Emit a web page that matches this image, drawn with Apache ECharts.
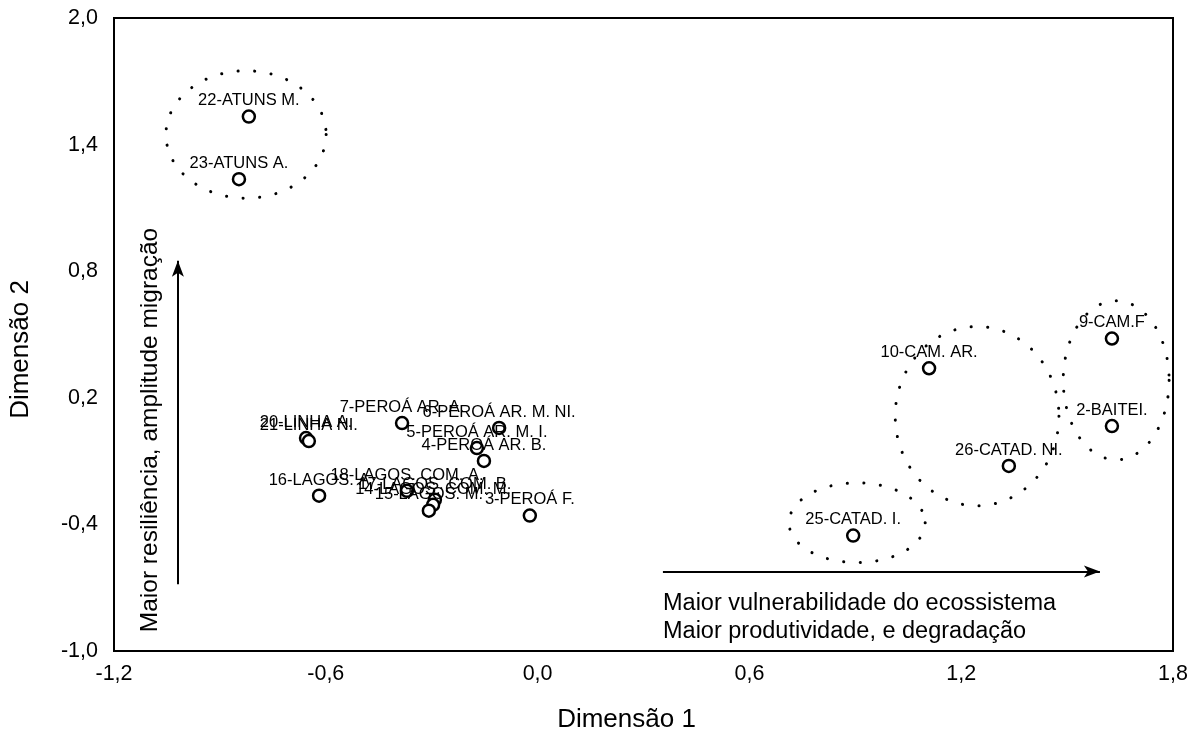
<!DOCTYPE html>
<html>
<head>
<meta charset="utf-8">
<script src="https://cdn.jsdelivr.net/npm/echarts@6/dist/echarts.min.js"></script>
<style>html,body{margin:0;padding:0;background:#fff}#c{width:1197px;height:738px}</style>
</head>
<body>
<div id="c"></div>
<script>
const labels = ['22-ATUNS M.','23-ATUNS A.','20-LINHA A.','21-LINHA NI.','7-PEROÁ AR. A.','6-PEROÁ AR. M. NI.','5-PEROÁ AR. M. I.','4-PEROÁ AR. B.','16-LAGOS. A','18-LAGOS. COM. A.','17-LAGOS. COM. B.','14-LAGOS. COM. M.','15-LAGOS. M.','3-PEROÁ F.','10-CAM. AR.','9-CAM.F','2-BAITEI.','26-CATAD. NI.','25-CATAD. I.'];
const dim1 = [-0.818,-0.846,-0.656,-0.648,-0.384,-0.109,-0.172,-0.152,-0.619,-0.370,-0.291,-0.296,-0.308,-0.022,1.109,1.627,1.627,1.335,0.894];
const dim2 = [1.533,1.236,0.009,-0.005,0.080,0.057,-0.038,-0.099,-0.264,-0.241,-0.283,-0.307,-0.335,-0.358,0.340,0.481,0.066,-0.123,-0.453];

// group ellipses: centre x, centre y, radius x, radius y (data units)
const ellCx = [-0.826, 0.905, 1.245, 1.639];
const ellCy = [1.448, -0.392, 0.113, 0.283];
const ellRx = [0.227, 0.193, 0.232, 0.150];
const ellRy = [0.302, 0.189, 0.425, 0.377];

const xTicks = [-1.2,-0.6,0.0,0.6,1.2,1.8];
const yTicks = [-1.0,-0.4,0.2,0.8,1.4,2.0];

const arrowV = [[-1.019,-0.684],[-1.019,0.849]];
const arrowH = [[0.355,-0.623],[1.593,-0.623]];
const textV = 'Maior resiliência, amplitude migração';
const textH1 = 'Maior vulnerabilidade do ecossistema';
const textH2 = 'Maior produtividade, e degradação';

const FONT = 'Liberation Sans, Arial, sans-serif';
const fmt = v => v.toFixed(1).replace('.', ',');

const chart = echarts.init(document.getElementById('c'));
const pts = dim1.map((x,i)=>({value:[x,dim2[i]], name:labels[i]}));
const ells = ellCx.map((x,i)=>[x,ellCy[i],ellRx[i],ellRy[i]]);

chart.setOption({
  animation:false,
  backgroundColor:'#fff',
  grid:{left:114,right:24,top:18,bottom:84,show:true,borderColor:'#000',borderWidth:2},
  xAxis:{type:'value',min:-1.2,max:1.8,interval:0.6,
    name:'Dimensão 1',nameLocation:'middle',nameGap:56,
    nameTextStyle:{fontFamily:FONT,fontSize:26,color:'#000',padding:[0,34,0,0]},
    axisLine:{show:true,onZero:false,lineStyle:{color:'#000',width:2}},
    axisTick:{show:false},splitLine:{show:false},
    axisLabel:{fontFamily:FONT,fontSize:21.5,color:'#000',margin:12,formatter:fmt}},
  yAxis:{type:'value',min:-1.0,max:2.0,interval:0.6,
    name:'Dimensão 2',nameLocation:'middle',nameGap:80,
    nameTextStyle:{fontFamily:FONT,fontSize:26,color:'#000',padding:[0,30,0,0]},
    axisLine:{show:true,onZero:false,lineStyle:{color:'#000',width:2}},
    axisTick:{show:false},splitLine:{show:false},
    axisLabel:{fontFamily:FONT,fontSize:21.5,color:'#000',margin:16,formatter:fmt}},
  series:[
    {type:'custom',data:ells,silent:true,z:1,
      renderItem:function(params,api){
        const c = api.coord([api.value(0),api.value(1)]);
        const s = api.size([api.value(2),api.value(3)]);
        const p = [];
        for(let k=0;k<=90;k++){const a=k/90*Math.PI*2;p.push([c[0]+s[0]*Math.cos(a),c[1]+s[1]*Math.sin(a)]);}
        return {type:'polyline',shape:{points:p},
          style:{stroke:'#000',fill:null,lineWidth:3,lineDash:[0.1,16.5],lineCap:'round'}};
      }},
    {type:'scatter',data:pts,symbol:'circle',symbolSize:12,z:3,
      itemStyle:{color:'#fff',borderColor:'#000',borderWidth:2.5,opacity:1},
      label:{show:true,position:'top',distance:0,formatter:p=>p.name,
        fontFamily:FONT,fontSize:16.5,color:'#000',opacity:1},
      emphasis:{disabled:true},
      markLine:{silent:true,symbol:['none','arrow'],symbolSize:[9,16],
        lineStyle:{color:'#000',width:2,type:'solid',opacity:1},label:{show:false},
        data:[[{coord:arrowV[0]},{coord:arrowV[1]}],[{coord:arrowH[0]},{coord:arrowH[1]}]]}}
  ],
  graphic:[
    {type:'text',x:150,y:430,rotation:Math.PI/2,
      style:{text:textV,fontFamily:FONT,fontSize:24.5,fill:'#000',textAlign:'center',textVerticalAlign:'middle'}},
    {type:'text',x:663,y:604,style:{text:textH1,fontFamily:FONT,fontSize:23.5,fill:'#000',textVerticalAlign:'middle'}},
    {type:'text',x:663,y:632,style:{text:textH2,fontFamily:FONT,fontSize:23.5,fill:'#000',textVerticalAlign:'middle'}}
  ]
});
</script>
</body>
</html>
